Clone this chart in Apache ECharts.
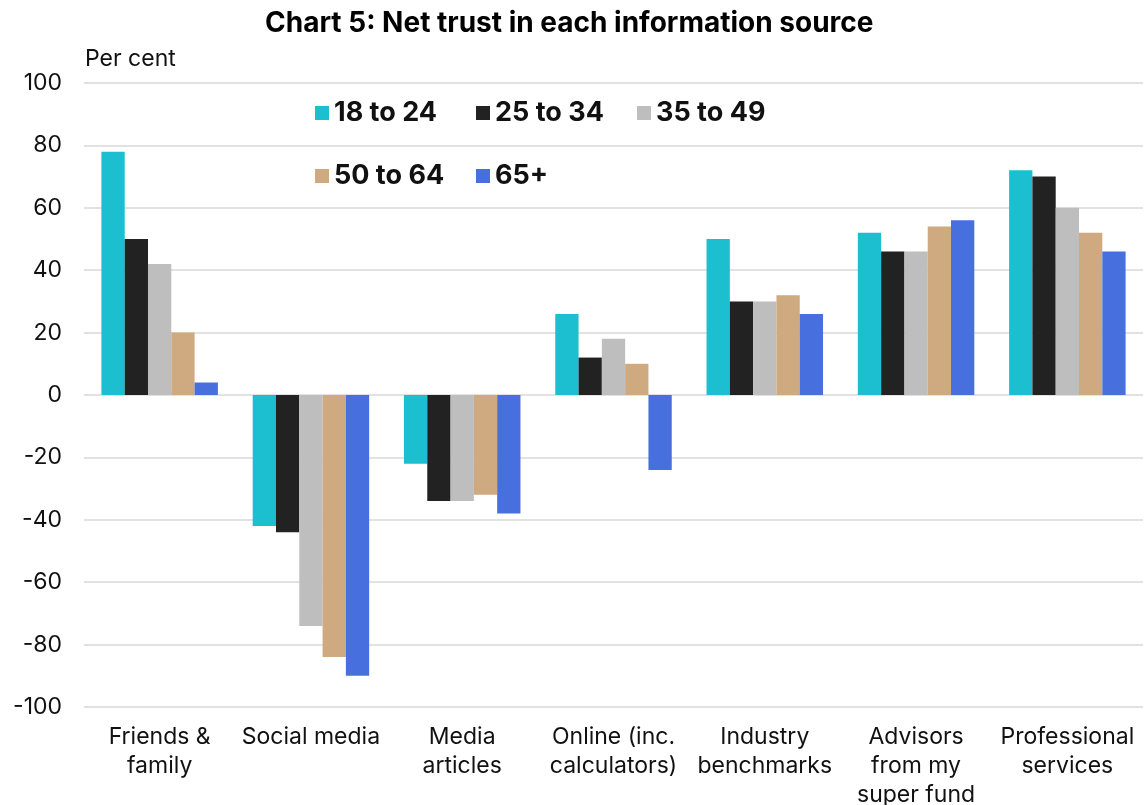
<!DOCTYPE html>
<html>
<head>
<meta charset="utf-8">
<script src="https://cdn.jsdelivr.net/npm/echarts@6/dist/echarts.min.js"></script>
<style>
  html, body { margin: 0; padding: 0; background: #ffffff; }
  #chart { width: 1146px; height: 805px; }
</style>
</head>
<body>
<div id="chart"></div>
<script>
// Information sources (x-axis categories)
const categories = [
  'Friends &\nfamily',
  'Social media',
  'Media\narticles',
  'Online (inc.\ncalculators)',
  'Industry\nbenchmarks',
  'Advisors\nfrom my\nsuper fund',
  'Professional\nservices'
];

// Age groups
const seriesNames = ['18 to 24', '25 to 34', '35 to 49', '50 to 64', '65+'];

// Net trust, per cent, for each age group
const age18to24 = [78, -42, -22, 26, 50, 52, 72];
const age25to34 = [50, -44, -34, 12, 30, 46, 70];
const age35to49 = [42, -74, -34, 18, 30, 46, 60];
const age50to64 = [20, -84, -32, 10, 32, 54, 52];
const age65plus = [4, -90, -38, -24, 26, 56, 46];

const seriesValues = [age18to24, age25to34, age35to49, age50to64, age65plus];
const seriesColors = ['#1bbfd0', '#222222', '#bebebe', '#cfa97f', '#4770de'];

// Y-axis ticks
const yMin = -100;
const yMax = 100;
const yStep = 20;

const FONT = 'Inter, "Noto Sans", sans-serif';

const chart = echarts.init(document.getElementById('chart'), null, { renderer: 'canvas' });

const legendCommon = {
  orient: 'horizontal',
  itemWidth: 14,
  itemHeight: 14,
  itemGap: 0,
  icon: 'rect',
  left: 310,
  selectedMode: false,
  textStyle: {
    fontFamily: FONT,
    fontSize: 27,
    fontWeight: 'bold',
    color: '#111111',
    width: 142,
    lineHeight: 30
  }
};

chart.setOption({
  animation: false,
  backgroundColor: '#ffffff',
  title: {
    text: 'Chart 5: Net trust in each information source',
    left: 260,
    top: 5,
    textStyle: {
      fontFamily: FONT,
      fontSize: 28,
      fontWeight: 'bold',
      color: '#000000'
    }
  },
  legend: [
    Object.assign({}, legendCommon, { top: 93, data: seriesNames.slice(0, 3) }),
    Object.assign({}, legendCommon, { top: 156, data: seriesNames.slice(3) })
  ],
  grid: {
    left: 84,
    right: 3,
    top: 83,
    bottom: 98,
    containLabel: false,
    outerBoundsMode: 'none'
  },
  xAxis: {
    type: 'category',
    data: categories,
    axisLine: { show: false },
    axisTick: { show: false },
    axisLabel: {
      interval: 0,
      margin: 16,
      fontFamily: FONT,
      fontSize: 23,
      lineHeight: 29,
      color: '#111111',
      align: 'center'
    }
  },
  yAxis: {
    type: 'value',
    min: yMin,
    max: yMax,
    interval: yStep,
    name: 'Per cent',
    nameLocation: 'end',
    nameGap: 12,
    nameTextStyle: {
      fontFamily: FONT,
      fontSize: 23,
      color: '#111111',
      align: 'left',
      padding: [0, 0, 0, 1]
    },
    axisLine: { show: false },
    axisTick: { show: false },
    axisLabel: {
      margin: 22,
      fontFamily: FONT,
      fontSize: 23,
      color: '#111111'
    },
    splitLine: {
      lineStyle: { color: '#e2e2e2', width: 2 }
    }
  },
  series: seriesNames.map((name, i) => ({
    name: name,
    type: 'bar',
    data: seriesValues[i],
    barGap: '0%',
    barCategoryGap: '23%',
    itemStyle: { color: seriesColors[i] },
    emphasis: { disabled: true }
  }))
});
</script>
</body>
</html>
